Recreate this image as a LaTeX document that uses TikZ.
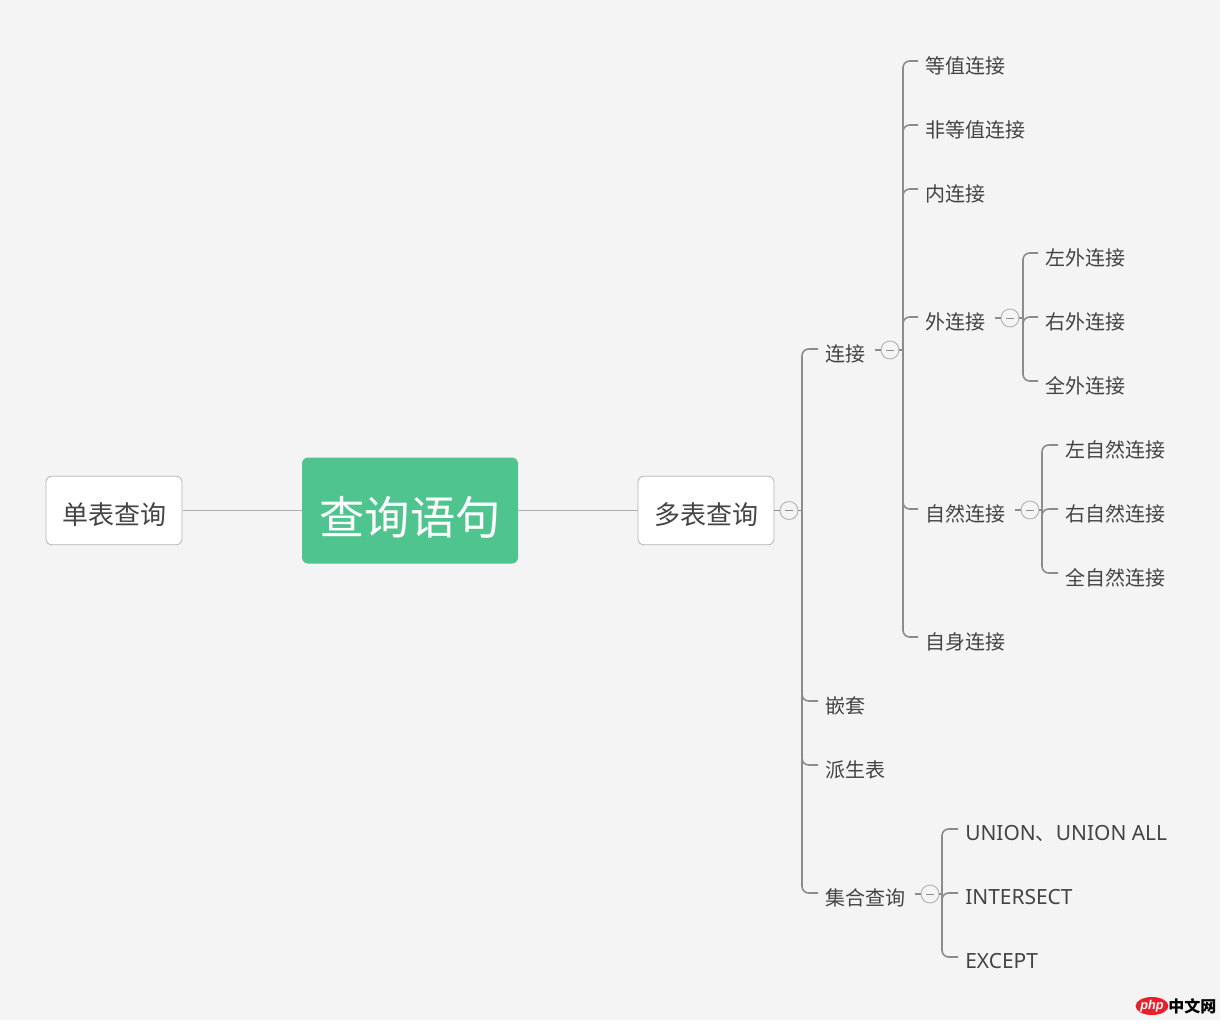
\documentclass[tikz,border=0pt]{standalone}
\usepackage{fontspec}
\setmainfont{Noto Sans CJK SC}
\newfontfamily\logofont{Liberation Sans}
\newfontfamily\latinfont{Noto Sans}
\usetikzlibrary{calc,shapes.geometric}
\definecolor{pagebg}{HTML}{F4F4F4}
\definecolor{txt}{HTML}{444444}
\definecolor{branchc}{HTML}{8C8C8C}
\definecolor{mainline}{HTML}{B0B0B0}
\definecolor{boxline}{HTML}{B4B4B4}
\definecolor{rootc}{HTML}{50C48F}
\definecolor{logored}{HTML}{E8202B}
\tikzset{
  kid/.style={anchor=west,inner sep=0pt,text=txt,font=\fontsize{15}{15}\selectfont,text height=12.1pt,text depth=0pt},
  mainbox/.style={draw=boxline,line width=.6pt,fill=white,rounded corners=4.5pt,minimum width=102pt,minimum height=51.5pt,inner sep=0pt,text=txt,font=\fontsize{19.5}{19.5}\selectfont,text height=20.6pt,text depth=0pt},
  rootbox/.style={fill=rootc,rounded corners=4.5pt,minimum width=162pt,minimum height=79.5pt,inner sep=0pt,text=white,font=\fontsize{34}{34}\selectfont,text height=36.3pt,text depth=0pt},
  mainlink/.style={draw=mainline,line width=1.1pt},
  branch/.style={draw=branchc,line width=1.2pt,rounded corners=5pt},
  collapse/.style={circle,draw=boxline,fill=pagebg,line width=.7pt,minimum size=13.5pt,inner sep=0pt,
    path picture={\draw[branchc,line width=.6pt] ([xshift=-3pt]path picture bounding box.center) -- ([xshift=3pt]path picture bounding box.center);}},
}
\newcommand{\kidstub}[2]{\draw[branch] (#1) |- ($(#2.west)+(-7,-4)$);}
\newcommand{\parentstub}[2]{\draw[branch] ($(#1.east)+(9,-3)$) -- (#2.west);}
\newcommand{\lat}[1]{{\latinfont\fontsize{15.7}{15.7}\selectfont #1}}
\begin{document}
\begin{tikzpicture}[x=.75pt,y=-.75pt]
\useasboundingbox (0,0) rectangle (1228,1026);
\fill[white] (0,0) rectangle (1228,1026);
\fill[pagebg] (0,0) rectangle (1220,1020);

\node[mainbox] (single) at (114,510.5) {单表查询};
\node[rootbox] (root) at (410,510.5) {查询语句};
\node[mainbox] (multi) at (706,510.5) {多表查询};
\draw[mainlink] (root.west) -- ($(single.east)+(1,0)$);
\draw[mainlink] (root.east) -- (multi.west);

\node[collapse] (c0) at (789,510.5) {};
\coordinate (b0) at (802,510.5);
\node[kid] (join) at (825,353) {连接};
\node[kid] (nest) at (825,705) {嵌套};
\node[kid] (derived) at (825,769) {派生表};
\node[kid] (setq) at (825,897) {集合查询};

\node[collapse] (c1) at (890,350) {};
\coordinate (b1) at (903,350);
\node[kid] (equi) at (925,65) {等值连接};
\node[kid] (nonequi) at (925,129) {非等值连接};
\node[kid] (inner) at (925,193) {内连接};
\node[kid] (outer) at (925,321) {外连接};
\node[kid] (natural) at (925,513) {自然连接};
\node[kid] (selfj) at (925,641) {自身连接};

\node[collapse] (c2) at (1010,318) {};
\coordinate (b2) at (1023,318);
\node[kid] (lo) at (1045,257) {左外连接};
\node[kid] (ro) at (1045,321) {右外连接};
\node[kid] (fo) at (1045,385) {全外连接};

\node[collapse] (c3) at (1030,510) {};
\coordinate (b3) at (1042,510);
\node[kid] (ln) at (1065,449) {左自然连接};
\node[kid] (rn) at (1065,513) {右自然连接};
\node[kid] (fn) at (1065,577) {全自然连接};

\node[collapse] (c4) at (930,894) {};
\coordinate (b4) at (942,894);
\node[kid] (un) at (965,832) {\lat{UNION}、\lat{UNION ALL}};
\node[kid] (ins) at (965,896) {\lat{INTERSECT}};
\node[kid] (exc) at (965,960) {\lat{EXCEPT}};

\draw[branch] (multi.east) -- (c0.west);
\draw[branch] (c0.east) -- (b0);
\foreach \k in {join,nest,derived,setq} {\kidstub{b0}{\k}}
\parentstub{join}{c1}
\draw[branch] (c1.east) -- (b1);
\foreach \k in {equi,nonequi,inner,outer,natural,selfj} {\kidstub{b1}{\k}}
\parentstub{outer}{c2}
\draw[branch] (c2.east) -- (b2);
\foreach \k in {lo,ro,fo} {\kidstub{b2}{\k}}
\parentstub{natural}{c3}
\draw[branch] (c3.east) -- (b3);
\foreach \k in {ln,rn,fn} {\kidstub{b3}{\k}}
\parentstub{setq}{c4}
\draw[branch] (c4.east) -- (b4);
\foreach \k in {un,ins,exc} {\draw[branch] (b4) |- ($(\k.west)+(-7,-3)$);}

\node[ellipse,fill=logored,minimum width=21.5pt,minimum height=13.5pt,inner sep=0pt,text=white,font=\logofont\bfseries\itshape\fontsize{9.5}{9.5}\selectfont] (logophp) at (1152,1006) {php};
\node[anchor=west,inner sep=0pt,text=black,font=\bfseries\fontsize{12}{12}\selectfont] (logocn) at (1168,1006) {中文网};
\end{tikzpicture}
\end{document}
